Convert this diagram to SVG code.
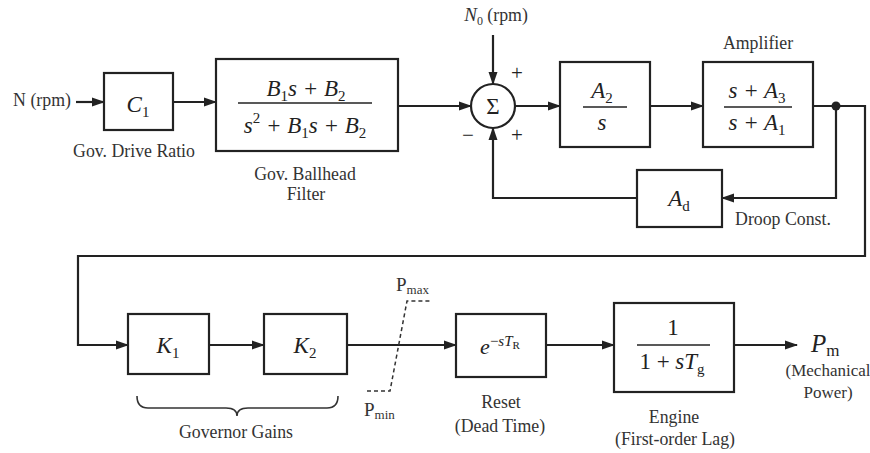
<svg xmlns="http://www.w3.org/2000/svg" width="870" height="453" viewBox="0 0 870 453">
<style>
.box{fill:#fff;stroke:#222;stroke-width:2.2}
.ln{fill:none;stroke:#222;stroke-width:2.2}
.thin{fill:none;stroke:#333;stroke-width:1.6}
.dash{fill:none;stroke:#333;stroke-width:1.5;stroke-dasharray:4 3}
.fr{stroke:#222;stroke-width:1.6}
.lbl{font-family:"Liberation Serif",serif;font-size:17.8px;fill:#333;text-anchor:middle}
.m{font-family:"Liberation Serif",serif;font-style:italic;font-size:23px;fill:#222;text-anchor:middle}
.up{font-style:normal}
.sub{font-style:normal;font-size:15px}
.sg{font-family:"Liberation Serif",serif;font-size:21px;fill:#222;text-anchor:middle}
</style>
<defs>
<marker id="ar" markerWidth="13" markerHeight="10" refX="12" refY="5" orient="auto" markerUnits="userSpaceOnUse"><path d="M0,0.5 L13,5 L0,9.5 z" fill="#222"/></marker>
</defs>
<g id="connectors">
<path class="ln" d="M76,102 L104,102" marker-end="url(#ar)"/>
<path class="ln" d="M173,102 L216,102" marker-end="url(#ar)"/>
<path class="ln" d="M398,106 L471,106" marker-end="url(#ar)"/>
<path class="ln" d="M493,35 L493,84" marker-end="url(#ar)"/>
<path class="ln" d="M515,106 L560,106" marker-end="url(#ar)"/>
<path class="ln" d="M650,106 L703,106" marker-end="url(#ar)"/>
<path class="ln" d="M813,106 L865,106 L865,256 L78,256 L78,345 L128,345" marker-end="url(#ar)"/>
<path class="ln" d="M836,106 L836,198 L722,198" marker-end="url(#ar)"/>
<path class="ln" d="M637,198 L493,198 L493,128" marker-end="url(#ar)"/>
<circle cx="836" cy="106" r="4.5" fill="#222"/>
<path class="ln" d="M209,345 L264,345" marker-end="url(#ar)"/>
<path class="ln" d="M347,345 L456,345" marker-end="url(#ar)"/>
<path class="ln" d="M546,345 L614,345" marker-end="url(#ar)"/>
<path class="ln" d="M734,345 L797,345" marker-end="url(#ar)"/>
</g>
<g id="input">
<text class="lbl" x="42" y="106">N (rpm)</text>
</g>
<g id="c1">
<rect class="box" x="104" y="73" width="69" height="57"/>
<text class="m" x="138" y="112">C<tspan class="sub" dy="5">1</tspan></text>
<text class="lbl" x="134" y="157">Gov. Drive Ratio</text>
</g>
<g id="filter">
<rect class="box" x="216" y="59" width="182" height="92"/>
<text class="m" x="306" y="96">B<tspan class="sub" dy="5">1</tspan><tspan dy="-5">s + B</tspan><tspan class="sub" dy="5">2</tspan></text>
<line class="fr" x1="238" y1="103" x2="372" y2="103"/>
<text class="m" x="305" y="133">s<tspan class="sub" dy="-10">2</tspan><tspan dy="10"> + B</tspan><tspan class="sub" dy="5">1</tspan><tspan dy="-5">s + B</tspan><tspan class="sub" dy="5">2</tspan></text>
<text class="lbl" x="305" y="180">Gov. Ballhead</text>
<text class="lbl" x="306" y="200">Filter</text>
</g>
<g id="sum">
<circle cx="493" cy="106" r="22" fill="#fff" stroke="#222" stroke-width="2.2"/>
<text x="493" y="114" style="font-family:'Liberation Serif',serif;font-size:23px;fill:#222;text-anchor:middle">Σ</text>
<text class="lbl" x="496" y="21"><tspan style="font-style:italic;font-size:19px">N</tspan><tspan style="font-size:12px" dy="4">0</tspan><tspan dy="-4"> (rpm)</tspan></text>
<text class="sg" x="517" y="80">+</text>
<text class="sg" x="517" y="142">+</text>
<text class="sg" x="468" y="142">−</text>
</g>
<g id="a2s">
<rect class="box" x="560" y="62" width="90" height="85"/>
<text class="m" x="602" y="98">A<tspan class="sub" dy="5">2</tspan></text>
<line class="fr" x1="583" y1="107" x2="627" y2="107"/>
<text class="m" x="602" y="130">s</text>
</g>
<g id="amplifier">
<rect class="box" x="703" y="62" width="110" height="85"/>
<text class="m" x="757" y="98">s + A<tspan class="sub" dy="5">3</tspan></text>
<line class="fr" x1="724" y1="107" x2="792" y2="107"/>
<text class="m" x="757" y="130">s + A<tspan class="sub" dy="5">1</tspan></text>
<text class="lbl" x="758" y="49">Amplifier</text>
</g>
<g id="droop">
<rect class="box" x="637" y="170" width="85" height="57"/>
<text class="m" x="679" y="206">A<tspan class="sub" dy="5">d</tspan></text>
<text class="lbl" x="783" y="225">Droop Const.</text>
</g>
<g id="k1">
<rect class="box" x="128" y="314" width="81" height="60"/>
<text class="m" x="168" y="353">K<tspan class="sub" dy="5">1</tspan></text>
</g>
<g id="k2">
<rect class="box" x="264" y="314" width="83" height="60"/>
<text class="m" x="305" y="353">K<tspan class="sub" dy="5">2</tspan></text>
</g>
<g id="gains">
<path class="thin" d="M137,396 Q137,408 148,408 L226,408 Q237,408 237,416 Q237,408 248,408 L327,408 Q338,408 338,396"/>
<text class="lbl" x="236" y="438">Governor Gains</text>
</g>
<g id="limiter">
<path class="dash" d="M367,391 L390,391 L407,301 L431,301"/>
<text class="lbl" x="396" y="291" style="text-anchor:start;font-size:19px">P<tspan style="font-size:13px" dy="3">max</tspan></text>
<text class="lbl" x="364" y="416" style="text-anchor:start;font-size:19px">P<tspan style="font-size:13px" dy="3">min</tspan></text>
</g>
<g id="reset">
<rect class="box" x="456" y="314" width="90" height="63"/>
<text class="m" x="500" y="354" style="font-size:22px">e<tspan class="up" style="font-size:15px" dy="-8">−</tspan><tspan style="font-size:15px">sT</tspan><tspan class="sub" style="font-size:11px" dy="3">R</tspan></text>
<text class="lbl" x="501" y="408">Reset</text>
<text class="lbl" x="500" y="432">(Dead Time)</text>
</g>
<g id="engine">
<rect class="box" x="614" y="303" width="120" height="89"/>
<text class="m" x="673" y="335" style="font-style:normal">1</text>
<line class="fr" x1="637" y1="345" x2="710" y2="345"/>
<text class="m" x="672" y="369"><tspan class="up">1 + </tspan>sT<tspan class="sub" dy="5">g</tspan></text>
<text class="lbl" x="674" y="423">Engine</text>
<text class="lbl" x="675" y="445">(First-order Lag)</text>
</g>
<g id="output">
<text class="m" x="811" y="352" style="text-anchor:start;font-size:25px">P<tspan class="sub" style="font-size:17px" dy="4">m</tspan></text>
<text class="lbl" x="828" y="376" style="font-size:17px">(Mechanical</text>
<text class="lbl" x="828" y="398" style="font-size:17px">Power)</text>
</g>
</svg>
